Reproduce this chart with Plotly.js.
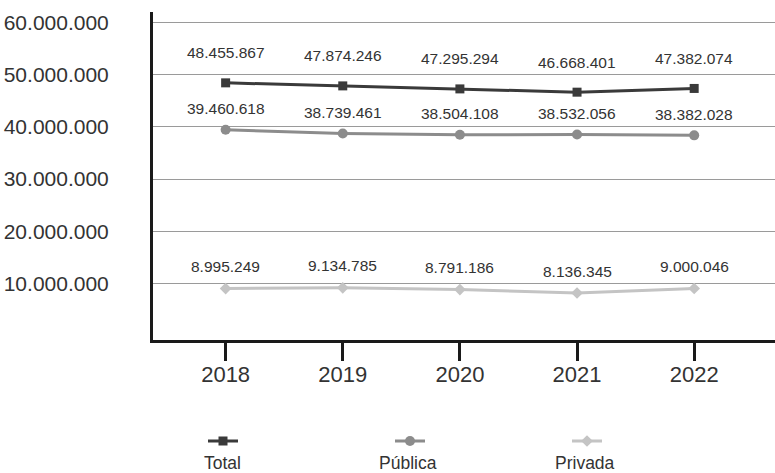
<!DOCTYPE html>
<html>
<head>
<meta charset="utf-8">
<script src="https://cdn.plot.ly/plotly-3.0.1.min.js"></script>
<style>html,body{margin:0;padding:0;background:#fff;}#chart{width:775px;height:473px;}</style>
</head>
<body>
<div id="chart"></div>
<script>
// ---- data ----
const years = ['2018', '2019', '2020', '2021', '2022'];
const seriesNames = ['Total', 'Pública', 'Privada'];
const totalValues = [48455867, 47874246, 47295294, 46668401, 47382074];
const publicaValues = [39460618, 38739461, 38504108, 38532056, 38382028];
const privadaValues = [8995249, 9134785, 8791186, 8136345, 9000046];
const yTickValues = [10000000, 20000000, 30000000, 40000000, 50000000, 60000000];

// ---- styles ----
const FONT = '"Liberation Sans", Arial, sans-serif';
const TEXT = '#333333';
const colors = ['#3a3a3a', '#8c8c8c', '#c4c4c4'];
const symbols = ['square', 'circle', 'diamond'];
const markerSizes = [9, 10, 9];
const labelShift = [30, 21, 22];
const legendIds = ['legend', 'legend2', 'legend3'];
const legendCenters = [225, 412, 589];   // px, symbol centres
const nameCenters = [222, 408, 585];

function fmt(v) {
  return String(v).replace(/\B(?=(\d{3})+(?!\d))/g, '.');
}

const allValues = [totalValues, publicaValues, privadaValues];

const traces = allValues.map((vals, k) => ({
  type: 'scatter',
  mode: 'lines+markers',
  x: years,
  y: vals,
  name: '',
  legend: legendIds[k],
  line: {color: colors[k], width: 3},
  marker: {symbol: symbols[k], size: markerSizes[k], color: colors[k]},
  hoverinfo: 'skip'
}));

const annotations = [];
allValues.forEach((vals, k) => {
  vals.forEach((v, i) => {
    annotations.push({
      x: i, y: v, xref: 'x', yref: 'y',
      text: fmt(v), showarrow: false,
      xanchor: 'center', yanchor: 'middle', yshift: labelShift[k],
      font: {family: FONT, size: 15.5, color: TEXT}
    });
  });
});

const L = 153, R = 0, T = 12, B = 133, W = 775, H = 473;
const plotW = W - L - R, plotH = H - T - B;
seriesNames.forEach((n, k) => {
  annotations.push({
    x: (nameCenters[k] - L) / plotW, y: (H - B - 463) / plotH,
    xref: 'paper', yref: 'paper', text: n, showarrow: false,
    xanchor: 'center', yanchor: 'middle',
    font: {family: FONT, size: 17.5, color: TEXT}
  });
});

const layout = {
  width: W, height: H,
  margin: {l: L, r: R, t: T, b: B, pad: 0, autoexpand: false},
  paper_bgcolor: '#ffffff', plot_bgcolor: '#ffffff',
  separators: ',.',
  showlegend: true,
  xaxis: {
    type: 'category', range: [-0.62, 4.69],
    showline: true, linewidth: 3, linecolor: '#1a1a1a',
    ticks: 'outside', ticklen: 18, tickwidth: 3, tickcolor: '#1a1a1a',
    showgrid: false, zeroline: false, tickangle: 0, automargin: false,
    ticklabelstandoff: -5,
    tickfont: {family: FONT, size: 22, color: TEXT}
  },
  yaxis: {
    range: [-880000, 62050000],
    tickvals: yTickValues, tickformat: ',d',
    showline: true, linewidth: 3, linecolor: '#1a1a1a',
    showgrid: true, gridcolor: '#9a9a9a', gridwidth: 1,
    zeroline: false, ticks: '', ticklabelstandoff: 37, automargin: false,
    tickfont: {family: FONT, size: 21, color: TEXT}
  },
  annotations: annotations
};
legendIds.forEach((id, k) => {
  layout[id] = {
    xref: 'container', yref: 'container',
    x: (legendCenters[k] - 22) / W, y: 1 - 441 / H,
    xanchor: 'left', yanchor: 'middle',
    bgcolor: 'rgba(0,0,0,0)', borderwidth: 0,
    font: {family: FONT, size: 10, color: TEXT}
  };
});

Plotly.newPlot('chart', traces, layout, {staticPlot: true, displayModeBar: false});
</script>
</body>
</html>
